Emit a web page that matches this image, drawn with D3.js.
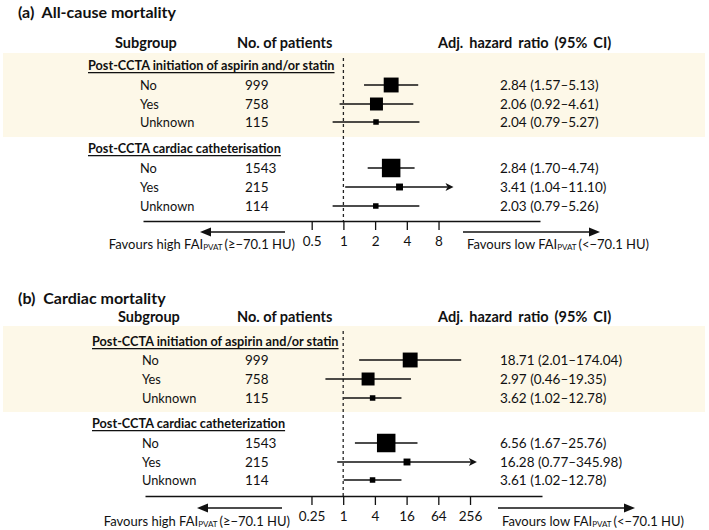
<!DOCTYPE html>
<html>
<head>
<meta charset="utf-8">
<script src="https://cdn.jsdelivr.net/npm/d3@7"></script>
<style>
  body { margin: 0; background: #fff; }
  svg { display: block; }
  text { font-family: Lato, "Open Sans", sans-serif; fill: #111; }
</style>
</head>
<body>
<svg id="chart" width="709" height="530"></svg>
<script>
// ---------- DATA ----------
const panelTitles = ["(a)  All-cause mortality", "(b)  Cardiac mortality"];
const groupLabelsA = ["Post-CCTA initiation of aspirin and/or statin", "Post-CCTA cardiac catheterisation"];
const groupLabelsB = ["Post-CCTA initiation of aspirin and/or statin", "Post-CCTA cardiac catheterization"];
const subgroups = ["No", "Yes", "Unknown"];
const patients = [999, 758, 115, 1543, 215, 114];

const hrA = [2.84, 2.06, 2.04, 2.84, 3.41, 2.03];
const loA = [1.57, 0.92, 0.79, 1.70, 1.04, 0.79];
const hiA = [5.13, 4.61, 5.27, 4.74, 11.10, 5.26];

const hrB = [18.71, 2.97, 3.62, 6.56, 16.28, 3.61];
const loB = [2.01, 0.46, 1.02, 1.67, 0.77, 1.02];
const hiB = [174.04, 19.35, 12.78, 25.76, 345.98, 12.78];

const ciArrow = [false, false, false, false, true, false];

const ticksA = [0.5, 1, 2, 4, 8];
const ticksB = [0.25, 1, 4, 16, 64, 256];
const tickLabelsA = ["0.5", "1", "2", "4", "8"];
const tickLabelsB = ["0.25", "1", "4", "16", "64", "256"];

// ---------- DRAW ----------
const svg = d3.select("#chart");
const fmt2 = d3.format(".2f");
const sizeScale = d3.scaleSqrt().domain([0, 1543]).range([0, 18.5]);

function drawPanel(cfg) {
  const g = svg.append("g");
  const x = d3.scaleLog().base(cfg.base).domain(cfg.domain).range([cfg.x0, cfg.x1]);

  // band
  g.append("rect").attr("x", 3).attr("y", cfg.bandTop).attr("width", 702)
    .attr("height", cfg.bandBottom - cfg.bandTop).attr("fill", "#fdf8e8");

  // title
  g.append("text").attr("x", 18).attr("y", cfg.titleY).attr("dominant-baseline", "central")
    .attr("font-size", 16).attr("font-weight", "bold").attr("xml:space", "preserve").text(cfg.title);

  // headers
  g.append("text").attr("x", cfg.subX).attr("y", cfg.headY).attr("dominant-baseline", "central")
    .attr("font-size", 14.5).attr("font-weight", "bold").text("Subgroup");
  g.append("text").attr("x", 237).attr("y", cfg.headY).attr("dominant-baseline", "central")
    .attr("font-size", 14.5).attr("font-weight", "bold").text("No. of patients");
  g.append("text").attr("x", 438).attr("y", cfg.headY).attr("dominant-baseline", "central")
    .attr("font-size", 14.5).attr("font-weight", "bold").attr("word-spacing", 2.5)
    .text("Adj. hazard ratio (95% CI)");

  // group labels
  cfg.groups.forEach((lab, gi) => {
    g.append("text").attr("x", cfg.groupX).attr("y", cfg.groupY[gi]).attr("dominant-baseline", "central")
      .attr("font-size", 12.7).attr("font-weight", "bold").attr("text-decoration", "underline")
      .text(lab);
  });

  // dashed reference line at 1
  g.append("line").attr("x1", x(1)).attr("x2", x(1)).attr("y1", cfg.bandTop + 5).attr("y2", cfg.axisY)
    .attr("stroke", "#222").attr("stroke-width", 1.3).attr("stroke-dasharray", "3,3");

  // rows
  cfg.hr.forEach((hr, i) => {
    const y = cfg.rowY[i];
    g.append("text").attr("x", cfg.labX).attr("y", y).attr("dominant-baseline", "central")
      .attr("font-size", 12.8).text(subgroups[i % 3]);
    g.append("text").attr("x", 245).attr("y", y).attr("dominant-baseline", "central")
      .attr("font-size", 13.5).text(patients[i]);
    const xl = x(cfg.lo[i]), xh = x(cfg.hi[i]);
    g.append("line").attr("x1", xl).attr("x2", ciArrow[i] ? xh - 6 : xh).attr("y1", y).attr("y2", y)
      .attr("stroke", "#111").attr("stroke-width", 1.3);
    if (ciArrow[i]) {
      g.append("path").attr("d", `M${xh},${y} L${xh - 8},${y - 4} L${xh - 6},${y} L${xh - 8},${y + 4} Z`)
        .attr("fill", "#111");
    }
    const s = Math.max(5.5, sizeScale(patients[i]));
    g.append("rect").attr("x", x(hr) - s / 2).attr("y", y - s / 2).attr("width", s).attr("height", s)
      .attr("fill", "#000");
    g.append("text").attr("x", 500).attr("y", y).attr("dominant-baseline", "central")
      .attr("font-size", 13.5)
      .text(`${fmt2(hr)} (${fmt2(cfg.lo[i])}\u2013${fmt2(cfg.hi[i])})`);
  });

  // axis
  const axis = d3.axisBottom(x).tickValues(cfg.ticks)
    .tickFormat((d, i) => cfg.tickLabels[i]).tickSize(9).tickSizeOuter(0).tickPadding(6);
  const ax = g.append("g").attr("transform", `translate(0,${cfg.axisY})`).call(axis);
  ax.select(".domain").attr("stroke", "#111").attr("stroke-width", 1.3);
  ax.selectAll(".tick line").attr("stroke", "#111").attr("stroke-width", 1.3);
  ax.selectAll(".tick text").attr("font-size", 13.5).attr("font-family", "Lato, sans-serif").attr("fill", "#111");

  // favours arrows
  const ay = cfg.arrowY;
  g.append("line").attr("x1", cfg.lArrow[0] + 8).attr("x2", cfg.lArrow[1]).attr("y1", ay).attr("y2", ay)
    .attr("stroke", "#111").attr("stroke-width", 1.6);
  g.append("path").attr("d", `M${cfg.lArrow[0]},${ay} L${cfg.lArrow[0] + 11},${ay - 4.5} L${cfg.lArrow[0] + 11},${ay + 4.5} Z`)
    .attr("fill", "#111");
  g.append("line").attr("x1", cfg.rArrow[0]).attr("x2", cfg.rArrow[1] - 8).attr("y1", ay).attr("y2", ay)
    .attr("stroke", "#111").attr("stroke-width", 1.6);
  g.append("path").attr("d", `M${cfg.rArrow[1]},${ay} L${cfg.rArrow[1] - 11},${ay - 4.5} L${cfg.rArrow[1] - 11},${ay + 4.5} Z`)
    .attr("fill", "#111");

  const lt = g.append("text").attr("x", cfg.lTextEnd).attr("y", cfg.favY).attr("text-anchor", "end")
    .attr("dominant-baseline", "central").attr("font-size", 13);
  lt.append("tspan").text("Favours high FAI");
  lt.append("tspan").attr("font-size", 8).attr("dy", 3).text("PVAT");
  lt.append("tspan").attr("dy", -3).attr("dx", 2).text("(\u2265\u221270.1 HU)");

  const rt = g.append("text").attr("x", cfg.rTextX).attr("y", cfg.favY)
    .attr("dominant-baseline", "central").attr("font-size", 13);
  rt.append("tspan").text("Favours low FAI");
  rt.append("tspan").attr("font-size", 8).attr("dy", 3).text("PVAT");
  rt.append("tspan").attr("dy", -3).attr("dx", 2).text("(<\u221270.1 HU)");
}

drawPanel({
  title: panelTitles[0], groups: groupLabelsA, hr: hrA, lo: loA, hi: hiA,
  base: 2, domain: [Math.pow(2, -6.32), Math.pow(2, 6.2)], x0: 143, x1: 540,
  ticks: ticksA, tickLabels: tickLabelsA,
  titleY: 11, headY: 42, bandTop: 53, bandBottom: 137,
  subX: 115, groupX: 88, labX: 140,
  groupY: [65, 148], rowY: [85, 104, 122, 168, 187, 206],
  axisY: 221, arrowY: 232, favY: 244,
  lArrow: [200, 285], rArrow: [463, 600], lTextEnd: 295, rTextX: 467
});

drawPanel({
  title: panelTitles[1], groups: groupLabelsB, hr: hrB, lo: loB, hi: hiB,
  base: 4, domain: [Math.pow(4, -6.25), Math.pow(4, 6.27)], x0: 145, x1: 542,
  ticks: ticksB, tickLabels: tickLabelsB,
  titleY: 297, headY: 316, bandTop: 326, bandBottom: 412,
  subX: 118, groupX: 92, labX: 142,
  groupY: [341, 423], rowY: [360, 379, 398, 443, 462, 480],
  axisY: 496, arrowY: 508, favY: 521,
  lArrow: [197, 282], rArrow: [498, 635], lTextEnd: 290, rTextX: 502
});
</script>
</body>
</html>
